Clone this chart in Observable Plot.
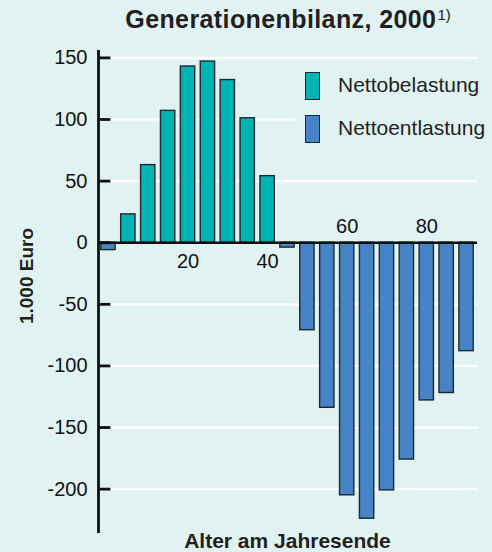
<!DOCTYPE html>
<html>
<head>
<meta charset="utf-8">
<script src="https://cdn.jsdelivr.net/npm/d3@7"></script>
<script src="https://cdn.jsdelivr.net/npm/@observablehq/plot@0.6"></script>
<style>
  html, body { margin: 0; padding: 0; background: #e0f2f1; }
  body { width: 492px; height: 552px; overflow: hidden; font-family: "Liberation Sans", Arial, sans-serif; color: #231f20; }
  #wrap { position: relative; width: 492px; height: 552px; }
  #chart { position: absolute; left: 0; top: 0; }
  .ov { position: absolute; white-space: nowrap; }
  #title { left: 0; width: 576px; top: 5px; text-align: center; font-weight: bold; font-size: 25px; letter-spacing: 0.4px; line-height: 28px; }
  #title sup { font-weight: normal; font-size: 15px; letter-spacing: 0; vertical-align: 8px; line-height: 0; margin-left: 1px; }
  #legend { left: 295px; top: 65px; width: 197px; height: 85px; background: #e0f2f1; }
  .sw { position: absolute; left: 10px; width: 13px; height: 26px; border: 1.5px solid #1d2a2c; }
  .lt { position: absolute; left: 43px; font-size: 21px; line-height: 24px; }
  #ylab { left: 27px; top: 276px; transform: translate(-50%, -50%) rotate(-90deg); font-weight: bold; font-size: 19px; }
  #xlab { left: 287.5px; top: 531px; transform: translateX(-50%); font-weight: bold; font-size: 21px; line-height: 20px; }
</style>
</head>
<body>
<div id="wrap">
  <div id="chart"></div>
  <div id="title" class="ov">Generationenbilanz, 2000<sup>1)</sup></div>
  <div id="legend" class="ov">
    <div class="sw" style="top:7px;background:#00b4b6"></div>
    <div class="lt" style="top:8px">Nettobelastung</div>
    <div class="sw" style="top:50px;background:#4684c7"></div>
    <div class="lt" style="top:51px">Nettoentlastung</div>
  </div>
  <div id="ylab" class="ov">1.000 Euro</div>
  <div id="xlab" class="ov">Alter am Jahresende</div>
</div>
<script>
const ages = [0, 5, 10, 15, 20, 25, 30, 35, 40, 45, 50, 55, 60, 65, 70, 75, 80, 85, 90];
const balance = [-6, 23, 63, 107, 143, 147, 132, 101, 54, -4, -71, -134, -205, -224, -201, -176, -128, -122, -88];
const yTicks = [150, 100, 50, 0, -50, -100, -150, -200];
const gridValues = [150, 100, 50, -50, -100, -150, -200];
const xTicksBelow = [20, 40];
const xTicksAbove = [60, 80];

const data = ages.map((a, i) => ({age: a, value: balance[i]}));
const pos = "#00b4b6", neg = "#4684c7";
const xmin = -2.5, xmax = 92.75;

const chart = Plot.plot({
  width: 492,
  height: 552,
  marginLeft: 98,
  marginRight: 15,
  marginTop: 50,
  marginBottom: 19,
  style: {background: "transparent", fontFamily: "'Liberation Sans', Arial, sans-serif", fontSize: "20px", color: "#111"},
  x: {type: "linear", domain: [xmin, xmax], axis: null},
  y: {type: "linear", domain: [-236, 156], axis: null},
  marks: [
    Plot.ruleY(gridValues, {y: d => d, x1: 0.75, x2: xmax, stroke: "white", strokeWidth: 2.2}),
    Plot.rectY(data, {
      x1: d => d.age - 1.8, x2: d => d.age + 1.8, y1: 0, y2: "value",
      fill: d => d.value >= 0 ? pos : neg,
      stroke: "#1d2a2c", strokeWidth: 1.4
    }),
    Plot.ruleY([0], {x1: xmin, x2: xmax, stroke: "#111", strokeWidth: 2.6}),
    Plot.ruleX([xmin], {y1: -236, y2: 156, stroke: "#111", strokeWidth: 2.8}),
    Plot.ruleY(yTicks, {y: d => d, x1: xmin, x2: 0.6, stroke: "#111", strokeWidth: 2.8}),
    Plot.text(yTicks, {x: xmin, y: d => d, text: d => String(d), textAnchor: "end", dx: -11, fill: "#111"}),
    Plot.text(xTicksBelow, {x: d => d, y: 0, text: d => String(d), dy: 19, fill: "#111"}),
    Plot.text(xTicksAbove, {x: d => d, y: 0, text: d => String(d), dy: -16, fill: "#111"})
  ]
});
document.getElementById("chart").appendChild(chart);
</script>
</body>
</html>
